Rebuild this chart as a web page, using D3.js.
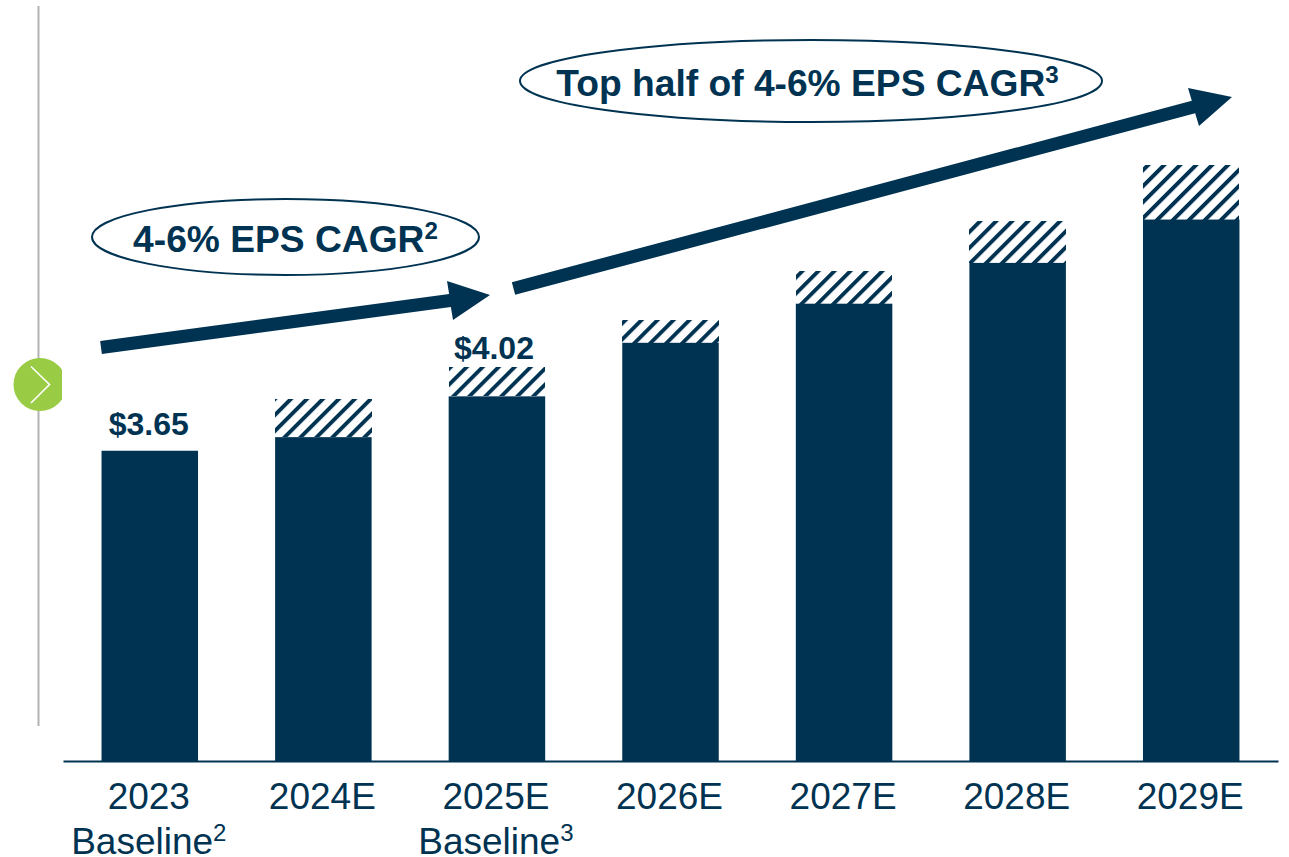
<!DOCTYPE html>
<html><head><meta charset="utf-8">
<script src="https://cdnjs.cloudflare.com/ajax/libs/d3/7.8.5/d3.min.js"></script>
<style>
html,body{margin:0;padding:0;background:#fff}
svg{display:block}
text{font-family:"Liberation Sans",Arial,sans-serif;fill:#003352}
</style></head><body>
<svg id="chart" width="1289" height="857"></svg>
<script>
const categories = ["2023","2024E","2025E","2026E","2027E","2028E","2029E"];
const subLabels = ["Baseline","","Baseline","","","",""];
const subSups = ["2","","3","","","",""];
const solidValues = [3.65,3.81,4.29,4.92,5.38,5.86,6.37];
const rangeValues = [0,0.45,0.345,0.27,0.385,0.49,0.64];
const valueLabels = ["$3.65","","$4.02","","","",""];

const navy = "#003352";
const svg = d3.select("#chart");
const x = d3.scaleBand().domain(categories).range([63,1278]).paddingInner(0.444).paddingOuter(0.222);
const y = d3.scaleLinear().domain([0,7]).range([761,166]);

const defs = svg.append("defs");
const pat = defs.append("pattern").attr("id","hatch").attr("patternUnits","userSpaceOnUse")
  .attr("width",11.3).attr("height",11.3).attr("patternTransform","rotate(45)");
pat.append("rect").attr("width",11.3).attr("height",11.3).attr("fill","#fff");
pat.append("rect").attr("x",0).attr("width",3.9).attr("height",11.3).attr("fill",navy);
defs.append("clipPath").attr("id","dotclip").append("rect").attr("x",0).attr("y",340).attr("width",62).attr("height",90);

// side rail + green marker
svg.append("line").attr("x1",38.5).attr("x2",38.5).attr("y1",6).attr("y2",726).attr("stroke","#b3b3b3").attr("stroke-width",2);
svg.append("circle").attr("cx",40).attr("cy",384.5).attr("r",26.5).attr("fill","#99cc44").attr("clip-path","url(#dotclip)");
svg.append("path").attr("d","M31,366.5L49.5,384.5L31,403").attr("fill","none").attr("stroke","#fff").attr("stroke-width",1.6);

// bars
const idx = d3.range(categories.length);
svg.append("g").selectAll("rect").data(idx.filter(i=>rangeValues[i]>0)).join("rect")
  .attr("x",i=>x(categories[i])).attr("width",x.bandwidth())
  .attr("y",i=>y(solidValues[i]+rangeValues[i]))
  .attr("height",i=>y(solidValues[i])-y(solidValues[i]+rangeValues[i]))
  .attr("fill","url(#hatch)").attr("shape-rendering","crispEdges");
svg.append("g").selectAll("rect").data(idx).join("rect")
  .attr("x",i=>x(categories[i])).attr("width",x.bandwidth())
  .attr("y",i=>y(solidValues[i])).attr("height",i=>y(0)-y(solidValues[i]))
  .attr("fill",navy);

// axis
const axis = d3.axisBottom(x).tickSize(0).tickPadding(0);
const ax = svg.append("g").attr("transform",`translate(0,${y(0)})`).call(axis);
ax.select(".domain").attr("stroke",navy).attr("stroke-width",2);
ax.selectAll(".tick text").attr("font-size",37).attr("font-family","Liberation Sans").attr("fill",navy)
  .attr("dy",0).attr("y",48).attr("x",-1);
const subs = svg.append("g").selectAll("text").data(idx.filter(i=>subLabels[i])).join("text")
  .attr("x",i=>x(categories[i])+x.bandwidth()/2-1).attr("y",854).attr("text-anchor","middle").attr("font-size",37);
subs.append("tspan").text(i=>subLabels[i]);
subs.append("tspan").attr("font-size",24).attr("dy",-13).text(i=>subSups[i]);

// value labels
svg.append("g").selectAll("text").data(idx.filter(i=>valueLabels[i])).join("text")
  .attr("x",i=>x(categories[i])+x.bandwidth()/2-(rangeValues[i]>0?3:1))
  .attr("y",i=>y(solidValues[i]+rangeValues[i])-(rangeValues[i]>0?8:16))
  .attr("text-anchor","middle").attr("font-size",32).attr("font-weight",700)
  .text(i=>valueLabels[i]);

// arrows
function arrow(p0,tip,b1,b2,w){
  const ang=Math.atan2(tip[1]-p0[1],tip[0]-p0[0]);
  const nx=-Math.sin(ang)*w/2, ny=Math.cos(ang)*w/2;
  const nk=[(b1[0]+b2[0])/2,(b1[1]+b2[1])/2];
  svg.append("path").attr("fill",navy).attr("d",
   `M${p0[0]-nx},${p0[1]-ny}L${nk[0]-nx},${nk[1]-ny}L${b1[0]},${b1[1]}L${tip[0]},${tip[1]}L${b2[0]},${b2[1]}L${nk[0]+nx},${nk[1]+ny}L${p0[0]+nx},${p0[1]+ny}Z`);
}
arrow([101,347.5],[490,295],[447,281],[453,320],13);
arrow([513.5,288.5],[1232,97],[1188,88],[1199,126],13);

// callouts
function callout(cx,cy,rx,ry,tx,label,sup,fs){
  svg.append("ellipse").attr("cx",cx).attr("cy",cy).attr("rx",rx).attr("ry",ry)
    .attr("fill","#fff").attr("stroke",navy).attr("stroke-width",2);
  const t=svg.append("text").attr("x",cx+tx).attr("y",cy+15).attr("text-anchor","middle")
    .attr("font-size",fs).attr("font-weight",700);
  t.append("tspan").text(label);
  t.append("tspan").attr("font-size",fs*0.65).attr("dy",-fs*0.36).text(sup);
}
callout(285.5,237,193.5,38,0,"4-6% EPS CAGR","2",37.2);
callout(811,81,291,41,-3.5,"Top half of 4-6% EPS CAGR","3",37.2);
</script>
</body></html>
